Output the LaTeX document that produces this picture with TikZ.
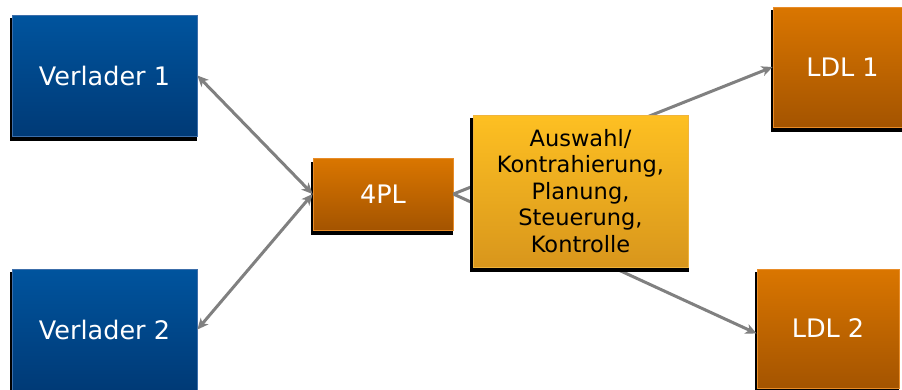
\documentclass[tikz,border=0pt]{standalone}
\usepackage{fontspec}
\setmainfont{DejaVu Sans}
\usetikzlibrary{arrows.meta,shadows}
\definecolor{bluetop}{RGB}{0,84,158}
\definecolor{bluebot}{RGB}{0,58,118}
\definecolor{blueedge}{RGB}{60,110,170}
\definecolor{orangetop}{RGB}{218,118,0}
\definecolor{orangebot}{RGB}{164,84,0}
\definecolor{orangeedge}{RGB}{232,140,40}
\definecolor{yellowtop}{RGB}{254,192,34}
\definecolor{yellowbot}{RGB}{216,150,28}
\definecolor{yellowedge}{RGB}{240,180,60}
\definecolor{linegray}{RGB}{128,128,128}
\tikzset{
  box/.style={rectangle, inner sep=0pt, shading=axis, shading angle=0,
    line width=0.8pt,
    general shadow={fill=black, shadow xshift=-1pt, shadow yshift=-4pt, shadow scale=1.015}},
  bluebox/.style={box, draw=blueedge, top color=bluetop, bottom color=bluebot, text=white,
    font=\fontsize{25.5}{30}\selectfont},
  orangebox/.style={box, draw=orangeedge, top color=orangetop, bottom color=orangebot, text=white,
    font=\fontsize{25.5}{30}\selectfont},
  yellowbox/.style={box, draw=yellowedge, top color=yellowtop, bottom color=yellowbot, text=black,
    font=\fontsize{22.5}{26.5}\selectfont, align=center},
  conn/.style={draw=linegray, line width=3pt},
  >={Stealth[length=11pt,width=10pt,inset=3pt]},
}
\begin{document}
\begin{tikzpicture}[x=1pt,y=-1pt]
\clip (0,0) rectangle (902,389);
\fill[white] (0,0) rectangle (902,389);
\node[bluebox, minimum width=185pt, minimum height=121pt] (v1) at (104.5,75.5) {Verlader 1};
\node[bluebox, minimum width=185pt, minimum height=121pt] (v2) at (104.5,329.5) {Verlader 2};
\node[orangebox, minimum width=140pt, minimum height=72pt] (pl) at (383,194) {4PL};
\node[orangebox, minimum width=139pt, minimum height=120pt] (l1) at (842.5,67) {LDL 1};
\node[orangebox, minimum width=142pt, minimum height=119pt] (l2) at (828,328.5) {LDL 2};
\draw[conn, <->] (v1.east) -- (pl.west);
\draw[conn, <->] (v2.east) -- (pl.west);
\draw[conn, ->] (pl.east) -- (l1.west);
\draw[conn, ->] (pl.east) -- ([yshift=-5pt]l2.west);
\node[yellowbox, minimum width=215pt, minimum height=152pt] (ctl) at (580.5,191) {Auswahl/\\Kontrahierung,\\Planung,\\Steuerung,\\Kontrolle};
\end{tikzpicture}
\end{document}
